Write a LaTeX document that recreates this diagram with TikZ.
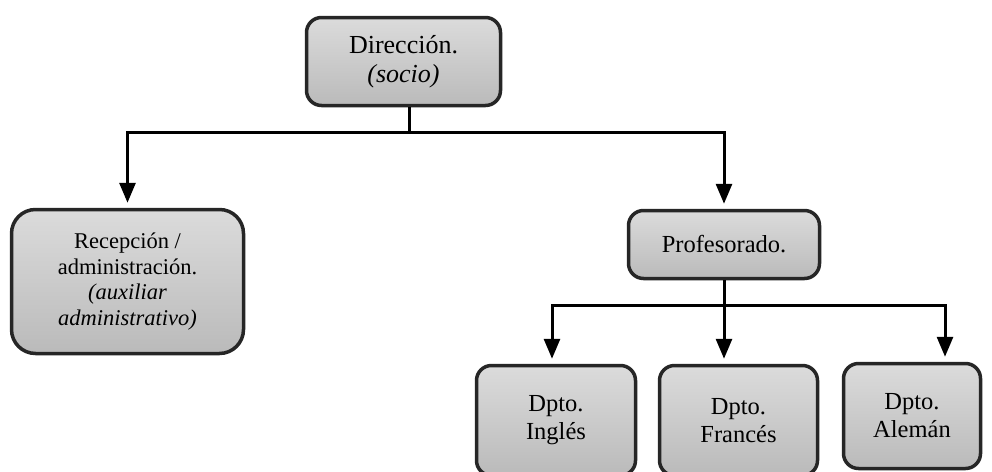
\documentclass[tikz,border=0pt]{standalone}
\usepackage{fontspec}
\setmainfont{Liberation Serif}
\usetikzlibrary{arrows.meta}
\begin{document}
\begin{tikzpicture}[x=1pt,y=-1pt,
  caja/.style={draw=black!85, line width=3.5pt, rounded corners=15pt,
    top color=black!14, bottom color=black!27, align=center, inner sep=0pt,
    font=\fontsize{24.5}{28}\selectfont},
  flecha/.style={line width=3pt, -{Triangle[length=20pt,width=16pt]}, shorten >=5pt}]
\useasboundingbox (0,0) rectangle (992,471);
\node[caja, minimum width=194pt, minimum height=88pt, font=\fontsize{26}{29}\selectfont] (dir) at (403.5,61.5) {Dirección.\\\textit{(socio)}};
\node[caja, minimum width=232pt, minimum height=144pt, rounded corners=24pt, font=\fontsize{22.5}{25.5}\selectfont] (rec) at (127.5,281.5) {Recepción /\\administración.\\\textit{(auxiliar}\\\textit{administrativo)}};
\node[caja, minimum width=191pt, minimum height=68pt] (prof) at (724,244.5) {Profesorado.};
\node[caja, minimum width=159pt, minimum height=110pt] (ing) at (556,420.5) {Dpto.\\Inglés};
\node[caja, minimum width=158pt, minimum height=110pt] (fra) at (738.5,420.5) {Dpto.\\Francés};
\node[caja, minimum width=137pt, minimum height=105pt] (ale) at (912,416) {Dpto.\\Alemán};
\draw[line width=3pt] ([xshift=6pt]dir.south) -- ++(0,25) coordinate (bus1);
\draw[flecha] (bus1) -| (rec.north);
\draw[flecha] (bus1) -| (prof.north);
\draw[line width=3pt] (prof.south) -- ++(0,25) coordinate (bus2);
\draw[flecha] (bus2) -| ([xshift=-4pt]ing.north);
\draw[flecha] (prof.south) -- (prof.south |- fra.north);
\draw[flecha] (bus2) -| ([xshift=33pt]ale.north);
\end{tikzpicture}
\end{document}
